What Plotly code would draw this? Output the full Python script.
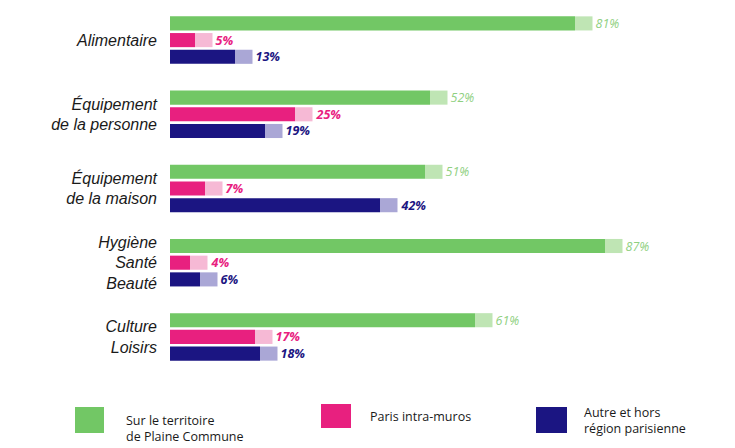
import plotly.graph_objects as go

categories = ["Alimentaire", "Équipement<br>de la personne", "Équipement<br>de la maison",
              "Hygiène<br>Santé<br>Beauté", "Culture<br>Loisirs"]
series_names = ["Sur le territoire de Plaine Commune", "Paris intra-muros",
                "Autre et hors région parisienne"]
plaine_commune = [81, 52, 51, 87, 61]
paris = [5, 25, 7, 4, 17]
autre = [13, 19, 42, 6, 18]

CAP = 3.5  # depth of the pseudo-3D end face, in % units

styles = [
    dict(vals=plaine_commune, color="#72c765", cap="#bfe5b4", tcol="#8fd07f",
         tweight="normal", offset=-0.32),
    dict(vals=paris, color="#e8207f", cap="#f6b9d5", tcol="#e8207f",
         tweight="bold", offset=-0.095),
    dict(vals=autre, color="#1b1582", cap="#aaa7d6", tcol="#1b1582",
         tweight="bold", offset=0.13),
]
W = 0.19
TOP, PLOT_H = 3, 371

fig = go.Figure()
for name, s in zip(series_names, styles):
    fig.add_trace(go.Bar(
        y=categories, x=s["vals"], orientation="h", name=name,
        marker=dict(color=s["color"], line=dict(width=0)),
        width=W, offset=s["offset"], showlegend=False, hoverinfo="x+name",
    ))
    fig.add_trace(go.Bar(
        y=categories, x=[CAP] * len(s["vals"]), base=s["vals"], orientation="h",
        marker=dict(color=s["cap"], line=dict(width=0)),
        width=W, offset=s["offset"], showlegend=False, hoverinfo="skip",
        text=[f"{v}%" for v in s["vals"]], textposition="outside",
        constraintext="none", cliponaxis=False,
        textfont=dict(family="Open Sans, Liberation Sans, sans-serif", size=12.5,
                      color=s["tcol"], weight=s["tweight"], style="italic"),
    ))

fig.update_layout(
    width=735, height=448,
    margin=dict(l=170, r=0, t=TOP, b=448 - TOP - PLOT_H),
    barmode="overlay",
    paper_bgcolor="white", plot_bgcolor="white",
    xaxis=dict(range=[0, 113], visible=False, fixedrange=True),
    yaxis=dict(range=[4.5, -0.5], showgrid=False, zeroline=False, showline=False,
               ticks="", ticklabelstandoff=12,
               tickfont=dict(family="Liberation Sans, Arial, sans-serif", size=16,
                             color="#1a1a1a", style="italic")),
    font=dict(family="Open Sans, sans-serif"),
)


def px_x(x):
    return (x - 170) / 565


def px_y(y):
    return (TOP + PLOT_H - y) / PLOT_H


# Legend drawn manually (large squares, two-line labels)
legend_items = [
    dict(x0=75, x1=104, y0=407, y1=433, color="#72c765",
         text="Sur le territoire<br>de Plaine Commune", tx=124, ty=428),
    dict(x0=321, x1=351, y0=404, y1=428, color="#e8207f",
         text="Paris intra-muros", tx=368, ty=417),
    dict(x0=536, x1=567, y0=407, y1=433, color="#1b1582",
         text="Autre et hors<br>région parisienne", tx=582, ty=421),
]
for it in legend_items:
    fig.add_shape(type="rect", xref="paper", yref="paper",
                  x0=px_x(it["x0"]), x1=px_x(it["x1"]),
                  y0=px_y(it["y1"]), y1=px_y(it["y0"]),
                  fillcolor=it["color"], line=dict(width=0))
    fig.add_annotation(xref="paper", yref="paper",
                       x=px_x(it["tx"]), y=px_y(it["ty"]),
                       xanchor="left", yanchor="middle", align="left",
                       text=it["text"], showarrow=False,
                       font=dict(family="Open Sans, sans-serif", size=12.5, color="#1a1a1a"))

fig.write_html("out.html")
